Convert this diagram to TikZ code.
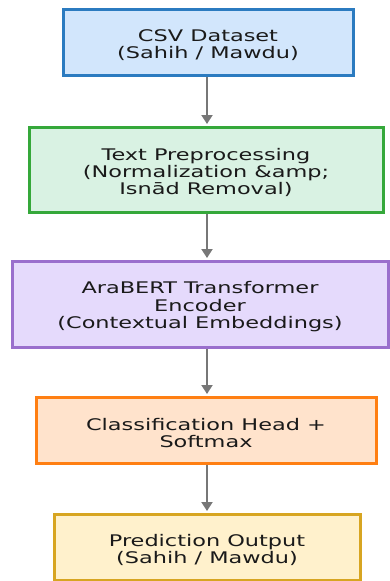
\documentclass[tikz,border=0pt]{standalone}
\usepackage{fontspec}
\setmainfont[FakeStretch=1.4]{DejaVu Sans}
\usetikzlibrary{arrows.meta}
\definecolor{b1f}{HTML}{D2E6FC}\definecolor{b1d}{HTML}{2B7BC0}
\definecolor{b2f}{HTML}{D9F2E3}\definecolor{b2d}{HTML}{35A83A}
\definecolor{b3f}{HTML}{E5DAFC}\definecolor{b3d}{HTML}{9A6FCD}
\definecolor{b4f}{HTML}{FFE3CC}\definecolor{b4d}{HTML}{FF7F12}
\definecolor{b5f}{HTML}{FFF1CC}\definecolor{b5d}{HTML}{D7A521}
\definecolor{arr}{HTML}{777777}
\definecolor{txt}{HTML}{1A1A1A}
\newcommand\tstr{\rule{0pt}{18pt}}
\tikzset{
  stagebox/.style={draw, line width=3pt, align=center, text=txt, inner sep=0pt,
    font=\fontsize{16}{17.4}\selectfont},
  flow/.style={draw=arr, line width=2pt, -{Triangle[length=9pt,width=11pt]}, shorten >=1.5pt}
}
\begin{document}
\begin{tikzpicture}[x=1pt,y=-1pt]
\useasboundingbox (0,0) rectangle (390,581);
\node[stagebox, fill=b1f, draw=b1d, minimum width=290pt, minimum height=66pt] (a) at (208,42) {\tstr CSV Dataset\\(Sahih / Mawdu)};
\node[stagebox, fill=b2f, draw=b2d, minimum width=354pt, minimum height=85pt] (b) at (206,169.5) {\tstr Text Preprocessing\\(Normalization \&amp;\\Isnād Removal)};
\node[stagebox, fill=b3f, draw=b3d, minimum width=376pt, minimum height=86pt] (c) at (200,304) {\tstr AraBERT Transformer\\Encoder\\(Contextual Embeddings)};
\node[stagebox, fill=b4f, draw=b4d, minimum width=340pt, minimum height=66pt] (d) at (206,430) {\tstr Classification Head +\\Softmax};
\node[stagebox, fill=b5f, draw=b5d, minimum width=306pt, minimum height=66pt] (e) at (207,547) {\tstr Prediction Output\\(Sahih / Mawdu)};
\coordinate (x) at (207,0);
\draw[flow] (a.south -| x) -- (b.north -| x);
\draw[flow] (b.south -| x) -- (c.north -| x);
\draw[flow] (c.south -| x) -- (d.north -| x);
\draw[flow] (d.south -| x) -- (e.north -| x);
\end{tikzpicture}
\end{document}
